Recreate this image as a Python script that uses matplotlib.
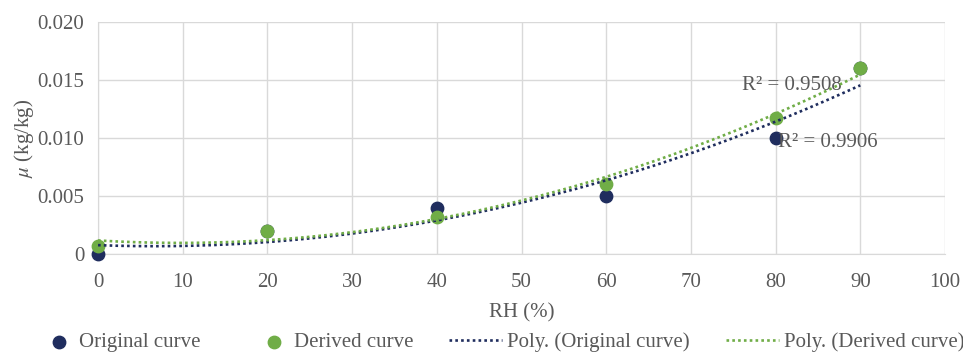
import matplotlib

matplotlib.use("Agg")

import matplotlib.pyplot as plt
import numpy as np
from matplotlib.legend_handler import HandlerPathCollection

rh = [0, 20, 40, 60, 80, 90]
original = [0.0, 0.002, 0.004, 0.005, 0.010, 0.016]
derived = [0.0007, 0.002, 0.0032, 0.006, 0.0117, 0.016]
r2_labels = ["R² = 0.9906", "R² = 0.9508"]

x_ticks = list(range(0, 101, 10))
y_ticks = [0, 0.005, 0.010, 0.015, 0.020]
y_tick_labels = ["0", "0.005", "0.010", "0.015", "0.020"]

NAVY = "#1f2d5e"
GREEN = "#70ad47"
TEXT = "#595959"
GRID = "#d9d9d9"
FS = 15

plt.rcParams["font.family"] = ["Liberation Serif", "DejaVu Serif"]
plt.rcParams["mathtext.fontset"] = "stix"

fig = plt.figure(figsize=(9.63, 3.53), dpi=100)
ax = fig.add_axes([0.1018, 0.2805, 0.8795, 0.657])

xs = np.linspace(0, 90, 200)
fit_o = np.polyval(np.polyfit(rh, original, 2), xs)
fit_d = np.polyval(np.polyfit(rh, derived, 2), xs)

sc_o = ax.scatter(rh, original, s=80, color=NAVY, zorder=3, clip_on=False,
                  label="Original curve")
sc_d = ax.scatter(rh, derived, s=80, color=GREEN, zorder=4, clip_on=False,
                  label="Derived curve")
ax.plot(xs, fit_o, color=NAVY, lw=1.9, ls=(0, (1, 1.2)), zorder=5,
        label="Poly. (Original curve)")
ax.plot(xs, fit_d, color=GREEN, lw=1.9, ls=(0, (1, 1.2)), zorder=5,
        label="Poly. (Derived curve)")

ax.text(80.3, 0.0096, r2_labels[0], fontsize=FS, color=TEXT, va="center", ha="left")
ax.text(76, 0.0145, r2_labels[1], fontsize=FS, color=TEXT, va="center", ha="left")

ax.set_xlim(0, 100)
ax.set_ylim(0, 0.020)
ax.set_xticks(x_ticks)
ax.set_yticks(y_ticks)
ax.set_yticklabels(y_tick_labels)
ax.tick_params(axis="x", length=0, labelsize=FS, colors=TEXT, pad=14)
ax.tick_params(axis="y", length=0, labelsize=FS, colors=TEXT, pad=10)
ax.grid(True, color=GRID, lw=1)
ax.set_axisbelow(True)
for side in ["top", "right"]:
    ax.spines[side].set_visible(False)
for side in ["left", "bottom"]:
    ax.spines[side].set_color(GRID)

ax.set_xlabel("RH (%)", fontsize=FS, color=TEXT, labelpad=8)
ax.set_ylabel(r"$\mu$ (kg/kg)", fontsize=FS, color=TEXT, labelpad=1)

# marker handles sit right of centre in their slot, like the spreadsheet legend
marker_handler = HandlerPathCollection(xpad=1.15)
handles, labels = ax.get_legend_handles_labels()
fig.legend(handles, labels, loc="center", ncol=4, frameon=False,
           fontsize=FS, labelcolor=TEXT, bbox_to_anchor=(0.5115, 0.03),
           columnspacing=1.72, handlelength=2.55, handletextpad=0.24,
           scatterpoints=1,
           handler_map={sc_o: marker_handler, sc_d: marker_handler})

fig.savefig("out.png", dpi=100)
